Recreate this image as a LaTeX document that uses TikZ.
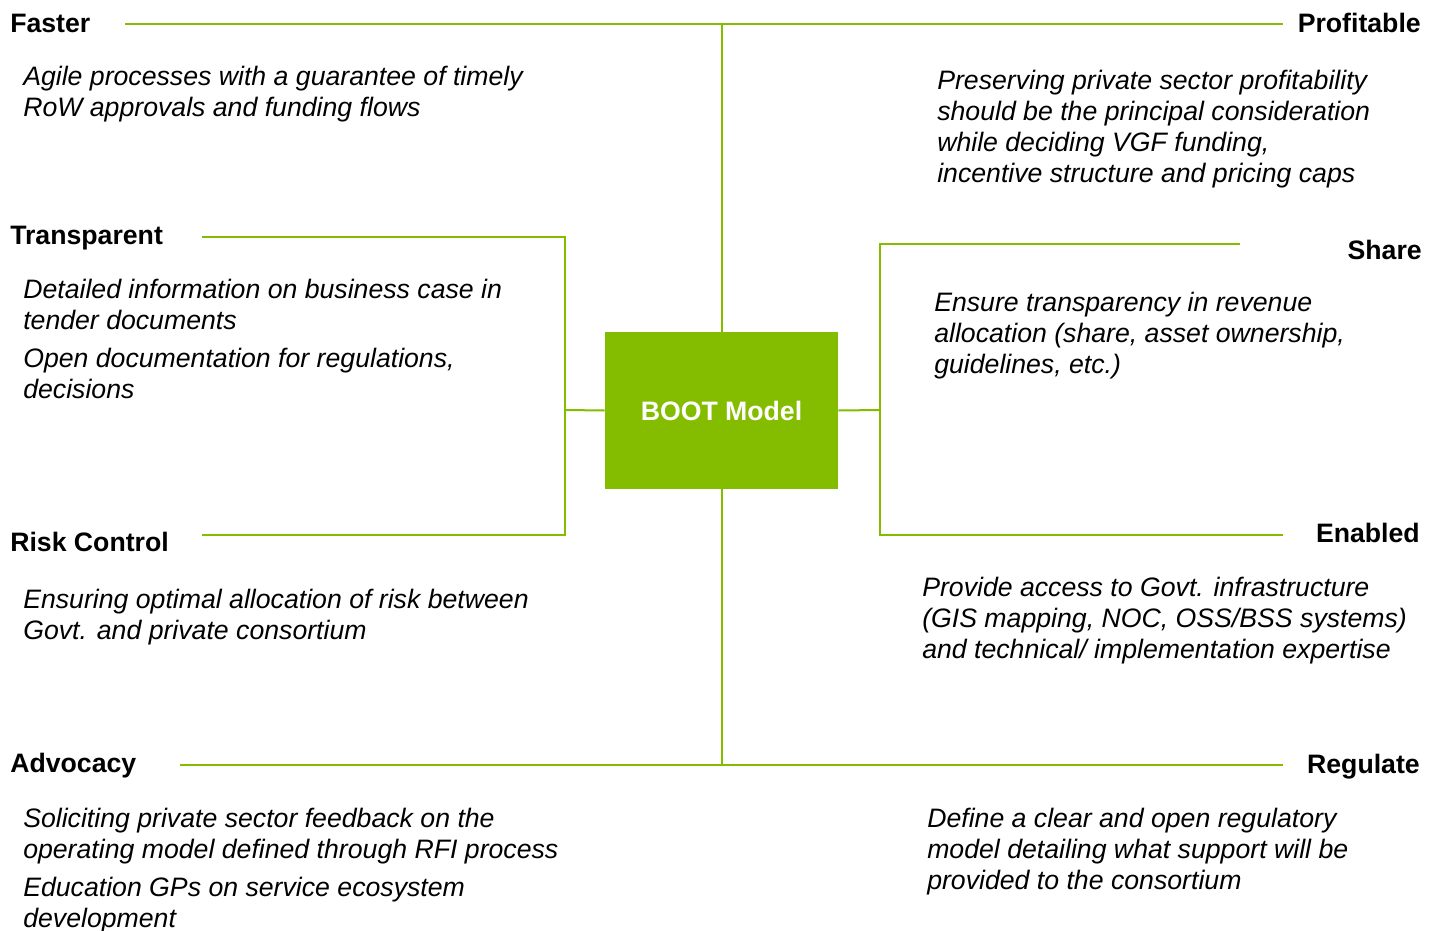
\documentclass[tikz,border=0pt]{standalone}
\usepackage{fontspec}
\setmainfont{Liberation Sans}
\usetikzlibrary{positioning}
\definecolor{bootgreen}{RGB}{132,188,0}

\begin{document}
\begin{tikzpicture}[
  x=0.75pt,y=-0.75pt,
  title/.style={font=\fontsize{20}{23.25}\selectfont\bfseries,inner sep=0pt},
  body/.style={font=\fontsize{20}{23.25}\selectfont\itshape,align=left,
    inner sep=0pt,anchor=north west},
  link/.style={draw=bootgreen,line width=1.5pt}
]
\useasboundingbox (0,0) rectangle (1439,931);

% centre box
\node[fill=bootgreen,minimum width=174.75pt,minimum height=117.75pt,
  text=white,font=\fontsize{20}{24}\selectfont\bfseries] (boot)
  at (721.5,410.5) {BOOT Model};

% line ends
\coordinate (fasterEnd) at (125,24);
\coordinate (profitEnd) at (1283,24);
\coordinate (advoEnd) at (180,765);
\coordinate (regEnd) at (1283,765);
\coordinate (transEnd) at (202,237);
\coordinate (riskEnd) at (202,535);
\coordinate (leftBar) at (565,410);
\coordinate (shareEnd) at (1240,244);
\coordinate (enabEnd) at (1283,535);
\coordinate (rightBar) at (880,410);

% connectors
\draw[link] (fasterEnd) -- (profitEnd);
\draw[link] (boot.north) -- (boot.north |- fasterEnd);
\draw[link] (advoEnd) -- (regEnd);
\draw[link] (boot.south) -- (boot.south |- advoEnd);
\draw[link] (transEnd) -- (transEnd -| leftBar) -- (riskEnd -| leftBar) -- (riskEnd);
\draw[link] (boot.west) -- (leftBar);
\draw[link] (shareEnd) -- (shareEnd -| rightBar) -- (enabEnd -| rightBar) -- (enabEnd);
\draw[link] (boot.east) -- (rightBar);

% left side
\node[title,anchor=base west] (faster) at (10,33) {Faster};
\node[body] (fasterTxt) at (23,66)
  {Agile processes with a guarantee of timely\\RoW approvals and funding flows};
\node[title,anchor=base west] (trans) at (10,244) {Transparent};
\node[body] (transTxt) at (23,279)
  {Detailed information on business case in\\tender documents\\[5.25pt]
   Open documentation for regulations,\\decisions};
\node[title,anchor=base west] (risk) at (10,551) {Risk Control};
\node[body] (riskTxt) at (23,589)
  {Ensuring optimal allocation of risk between\\Govt. and private consortium};
\node[title,anchor=base west] (advo) at (10,772) {Advocacy};
\node[body] (advoTxt) at (23,808)
  {Soliciting private sector feedback on the\\operating model defined through RFI process\\[5.25pt]
   Education GPs on service ecosystem\\development};

% right side
\node[title,anchor=base east] (profit) at (1421,33) {Profitable};
\node[body] (profitTxt) at (937,70)
  {Preserving private sector profitability\\should be the principal consideration\\
   while deciding VGF funding,\\incentive structure and pricing caps};
\node[title,anchor=base east] (share) at (1422,259) {Share};
\node[body] (shareTxt) at (934,292)
  {Ensure transparency in revenue\\allocation (share, asset ownership,\\guidelines, etc.)};
\node[title,anchor=base east] (enab) at (1420,542) {Enabled};
\node[body] (enabTxt) at (922,577)
  {Provide access to Govt. infrastructure\\(GIS mapping, NOC, OSS/BSS systems)\\
   and technical/ implementation expertise};
\node[title,anchor=base east] (reg) at (1420,773) {Regulate};
\node[body] (regTxt) at (927,808)
  {Define a clear and open regulatory\\model detailing what support will be\\provided to the consortium};
\end{tikzpicture}
\end{document}
